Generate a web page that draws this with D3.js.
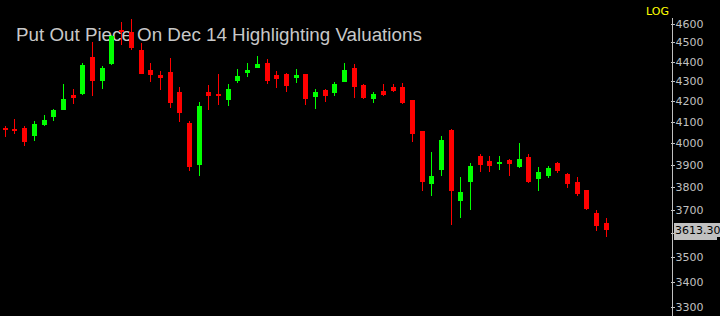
<!DOCTYPE html>
<html>
<head>
<meta charset="utf-8">
<script src="https://cdn.jsdelivr.net/npm/d3@7"></script>
<style>
  html, body { margin: 0; padding: 0; background: #000; }
  svg { display: block; }
</style>
</head>
<body>
<svg id="chart" width="720" height="316"></svg>
<script>
// daily candles
const opens = [4072,4066,4071,4033,4086,4124,4158,4233,4236,4424,4302,4388,4566,4555,4460,4357,4332,4347,4246,4095,3899,4246,4236,4207,4302,4342,4367,4393,4332,4337,4317,4337,4222,4256,4241,4297,4367,4281,4212,4251,4271,4271,4207,4057,3813,3876,4062,3738,3822,3940,3917,3903,3922,3889,3935,3835,3849,3908,3858,3822,3786,3685,3642]
const highs = [4081,4114,4081,4105,4134,4163,4286,4261,4393,4502,4378,4540,4609,4625,4497,4393,4352,4419,4271,4105,4197,4281,4337,4286,4362,4393,4429,4414,4352,4342,4362,4339,4261,4261,4297,4393,4388,4286,4246,4286,4286,4292,4209,4059,3958,4033,4066,3844,3908,3949,3940,3940,3926,4000,3949,3889,3894,3912,3860,3844,3788,3698,3664]
const lows = [4030,4044,3988,4008,4081,4105,4156,4187,4231,4227,4261,4383,4487,4460,4335,4297,4256,4168,4100,3871,3849,4158,4182,4178,4292,4322,4365,4286,4266,4246,4292,4182,4163,4197,4227,4295,4217,4212,4192,4229,4246,4187,4005,3782,3760,3849,3634,3664,3698,3867,3867,3876,3849,3887,3817,3782,3840,3862,3795,3760,3698,3608,3583]
const closes = [4066,4058,4005,4090,4109,4158,4212,4217,4383,4302,4367,4534,4555,4471,4337,4332,4317,4192,4143,3889,4178,4227,4227,4261,4327,4357,4388,4302,4312,4276,4332,4212,4246,4227,4286,4357,4271,4217,4236,4231,4251,4192,4043,3822,3849,4014,3782,3777,3894,3899,3894,3912,3903,3926,3822,3867,3885,3871,3813,3768,3703,3630,3613.3]

const priceTicks = [3300,3400,3500,3600,3700,3800,3900,4000,4100,4200,4300,4400,4500,4600]
const title = 'Put Out Piece On Dec 14 Highlighting Valuations'
const lastPrice = '3613.30'

const width = 720
const height = 316
const axisX = 672

const svg = d3.select('#chart')

svg.append('rect')
  .attr('width', width)
  .attr('height', height)
  .attr('fill', '#000')

const candles = opens.map((o, i) => ({ i, o, h: highs[i], l: lows[i], c: closes[i] }))

const x = d3.scaleLinear()
  .domain([0, candles.length - 1])
  .range([5.3, 606.3])

const y = d3.scaleLog()
  .domain([3300, 4600])
  .range([307.3, 23.7])

// title sits under the candles
svg.append('text')
  .attr('x', 16)
  .attr('y', 41)
  .attr('fill', '#c8c8c8')
  .style('font-family', '"Liberation Sans", Arial, sans-serif')
  .style('font-size', '18.8px')
  .text(title)

const g = svg.append('g').attr('shape-rendering', 'crispEdges')

const col = d => Math.floor(x(d.i))
const colour = d => d.c < d.o ? '#ff0000' : '#00ff00'

g.selectAll('.wick')
  .data(candles)
  .enter()
  .append('rect')
  .attr('class', 'wick')
  .attr('x', col)
  .attr('width', 1)
  .attr('y', d => Math.round(y(d.h)))
  .attr('height', d => Math.max(1, Math.round(y(d.l)) - Math.round(y(d.h))))
  .attr('fill', colour)

g.selectAll('.body')
  .data(candles)
  .enter()
  .append('rect')
  .attr('class', 'body')
  .attr('x', d => col(d) - 2)
  .attr('width', 5)
  .attr('y', d => Math.round(y(Math.max(d.o, d.c))))
  .attr('height', d => Math.max(2, Math.round(y(Math.min(d.o, d.c))) - Math.round(y(Math.max(d.o, d.c)))))
  .attr('fill', colour)

// right price axis; the 3600 label is covered by the last price tag
const tagY = Math.round(y(+lastPrice))
const axis = d3.axisRight(y)
  .tickValues(priceTicks)
  .tickFormat(d => Math.abs(y(d) - tagY) < 12 ? '' : d3.format('d')(d))
  .tickSize(2)
  .tickPadding(1)

const axisG = svg.append('g')
  .attr('transform', `translate(${axisX + 0.5},0)`)
  .attr('shape-rendering', 'crispEdges')
  .call(axis)

axisG.select('.domain').remove()
axisG.selectAll('.tick line')
  .attr('x1', -2)
  .attr('stroke', '#c0c0c0')
axisG.selectAll('.tick text')
  .attr('fill', '#c0c0c0')
  .style('font-family', '"DejaVu Sans", Verdana, sans-serif')
  .style('font-size', '11px')

svg.append('line')
  .attr('x1', axisX + 0.5)
  .attr('x2', axisX + 0.5)
  .attr('y1', 18)
  .attr('y2', height)
  .attr('stroke', '#c0c0c0')

// last price tag
svg.append('path')
  .attr('d', `M674,${tagY - 7}H720V${tagY + 7}H717V${tagY + 10}H674Z`)
  .attr('fill', '#c0c0c0')
svg.append('text')
  .attr('x', 675)
  .attr('y', tagY + 4)
  .attr('fill', '#000')
  .style('font-family', '"DejaVu Sans", Verdana, sans-serif')
  .style('font-size', '11px')
  .text(lastPrice)

svg.append('text')
  .attr('x', 669)
  .attr('y', 15)
  .attr('text-anchor', 'end')
  .attr('fill', '#ffff00')
  .style('font-family', '"DejaVu Sans", Verdana, sans-serif')
  .style('font-size', '11px')
  .text('LOG')
</script>
</body>
</html>
